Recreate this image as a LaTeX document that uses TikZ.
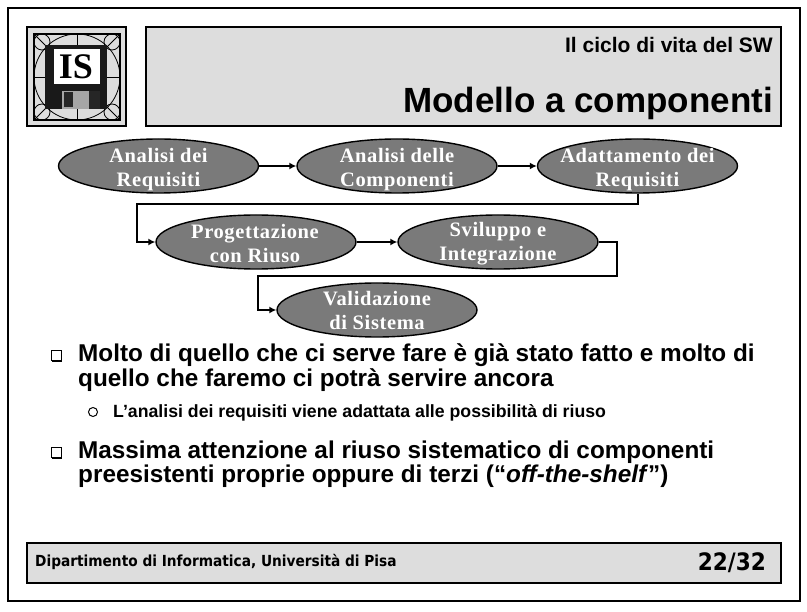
\documentclass[tikz,border=0pt]{standalone}
\usepackage{fontspec}
\setmainfont{Liberation Sans}
\newfontfamily\stagefont[LetterSpace=3]{Liberation Serif}
\newfontfamily\logofont{Liberation Serif}
\newfontfamily\footfont{DejaVu Sans Condensed}
\usepackage{tikz}
\usetikzlibrary{shapes,shadows,arrows,arrows.meta}
\definecolor{boxgray}{HTML}{DDDDDD}
\definecolor{stagegray}{HTML}{7A7A7A}
\tikzset{
    panel/.style={draw, line width=1.8pt, fill=boxgray},
    stage/.style={draw, ellipse, fill=stagegray, line width=1.4pt, inner sep=0pt, minimum width=200pt, minimum height=54pt},
    stagetext/.style={text=white, align=center, inner sep=0pt, font=\stagefont\bfseries\fontsize{20.5}{24}\selectfont},
    flow/.style={line width=2pt, -{Latex[length=7pt,width=7pt]}},
    bigtext/.style={anchor=base west, inner sep=0pt, font=\bfseries\fontsize{24.3}{25}\selectfont},
    smalltext/.style={anchor=base west, inner sep=0pt, font=\bfseries\fontsize{17.7}{18}\selectfont},
    boxbullet/.style={draw, line width=1pt, inner sep=0pt, minimum size=10pt, fill=white, drop shadow={shadow xshift=1.2pt, shadow yshift=-1.2pt, fill=black, opacity=1}},
    ringbullet/.style={draw, circle, line width=1pt, inner sep=0pt, minimum size=9pt}}

\begin{document}
\begin{tikzpicture}[x=1pt,y=-1pt]
\useasboundingbox (0,0) rectangle (807,612);
\draw[line width=2.5pt] (8,8) rectangle (800,601);
% logo
\draw[panel] (27,27) rectangle (126,126);
\draw[line width=1.2pt] (34,34) rectangle (120,120);
\coordinate (LogoC) at (77,77);
\draw[line width=.8pt] (LogoC) circle (43);
\foreach \cx/\cy in {42/42,112/42,42/112,112/112}
  \draw[line width=.8pt] (\cx,\cy) circle (8);
\draw[line width=.8pt] (34,34) -- (120,120);
\draw[line width=.8pt] (120,34) -- (34,120);
\draw[line width=.8pt] (77,34) -- (77,120);
\draw[line width=.8pt] (34,77) -- (120,77);
\fill[black!90] (45,45) rectangle (107,109);
\fill[white] (54,49) rectangle (100,84);
\node[inner sep=0pt, font=\logofont\bfseries\fontsize{36}{36}\selectfont] (logoname) at (76,67) {IS};
\fill[gray!70] (62,91) rectangle (100,109);
\fill[black!85] (64,92) rectangle (73,107);
\fill[black!85] (89,91) rectangle (100,109);
% title
\draw[panel] (146,27) rectangle (781,126);
\node[anchor=base east, inner sep=0pt, font=\bfseries\fontsize{21}{22}\selectfont] (chapter) at (773,53) {Il ciclo di vita del SW};
\node[anchor=base east, inner sep=0pt, font=\bfseries\fontsize{35}{36}\selectfont] (title) at (773,113) {Modello a componenti};
% cycle
\node[stage, label={[stagetext,yshift=-3.5pt]center:{Analisi dei\\Requisiti}}] (AnReq) at (158.5,166) {};
\node[stage, label={[stagetext,yshift=-3.5pt]center:{Analisi delle\\Componenti}}] (AnComp) at (397,166) {};
\node[stage, label={[stagetext,yshift=-3.5pt]center:{Adattamento dei\\Requisiti}}] (Adatt) at (637.5,166) {};
\node[stage, label={[stagetext,yshift=-1.5pt,xshift=-1pt]center:{Progettazione\\con Riuso}}] (Prog) at (256,242) {};
\node[stage, label={[stagetext,yshift=-1.5pt]center:{Sviluppo e\\Integrazione}}] (Svil) at (498,242) {};
\node[stage, label={[stagetext,yshift=-.5pt]center:{Validazione\\di Sistema}}] (Valid) at (377,310) {};
\coordinate (TurnA) at (137,204);
\coordinate (TurnB) at (617,276);
\coordinate (TurnC) at (258,276);
\draw[flow] (AnReq) -- (AnComp);
\draw[flow] (AnComp) -- (Adatt);
\draw[flow] (Adatt.south) |- (TurnA) |- (Prog.west);
\draw[flow] (Prog) -- (Svil);
\draw[flow] (Svil.east) -| (TurnB) -- (TurnC) |- (Valid.west);
% bullets
\node[boxbullet] (markA) at (56,356) {};
\node[bigtext] (lineA) at (78,362) {Molto di quello che ci serve fare è già stato fatto e molto di};
\node[bigtext] (lineB) at (78,387) {quello che faremo ci potrà servire ancora};
\node[ringbullet] (markB) at (93,412) {};
\node[smalltext] (lineC) at (113,418) {L’analisi dei requisiti viene adattata alle possibilità di riuso};
\node[boxbullet] (markC) at (56,453) {};
\node[bigtext] (lineD) at (78,459) {Massima attenzione al riuso sistematico di componenti};
\node[bigtext] (lineE) at (78,483) {preesistenti proprie oppure di terzi (“\textit{off-the-shelf}”)};
% footer
\draw[panel] (27,543) rectangle (781,583);
\node[anchor=base west, inner sep=0pt, font=\footfont\bfseries\fontsize{15.25}{16}\selectfont] (dept) at (35,566) {Dipartimento di Informatica, Università di Pisa};
\node[anchor=base east, inner sep=0pt, font=\footfont\bfseries\fontsize{24}{26}\selectfont] (page) at (766,570) {22/32};
\end{tikzpicture}
\end{document}
